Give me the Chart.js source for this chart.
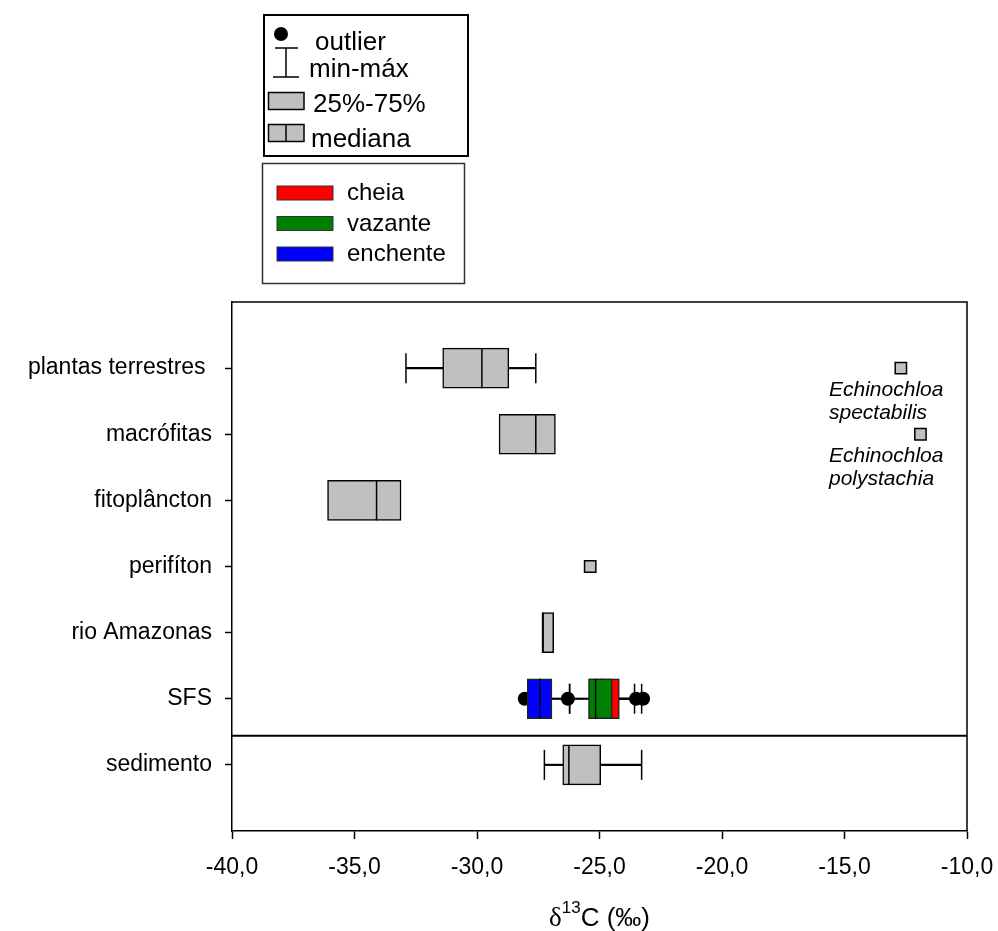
<!DOCTYPE html>
<html>
<head>
<meta charset="utf-8">
<script src="https://cdn.jsdelivr.net/npm/chart.js@4/dist/chart.umd.min.js"></script>
<style>
  body { margin: 0; background: #fff; }
  #chart { display: block; }
</style>
</head>
<body>
<canvas id="chart" width="998" height="931"></canvas>
<script>
// categories (top to bottom)
const categories = ['plantas terrestres ', 'macrófitas', 'fitoplâncton', 'perifíton', 'rio Amazonas', 'SFS', 'sedimento'];
const xTicks = [-40, -35, -30, -25, -20, -15, -10];

// grey boxes: min, q1, median, q3, max
const boxRows = ['plantas terrestres ', 'macrófitas', 'fitoplâncton', 'rio Amazonas', 'sedimento'];
const boxMin = [-32.9, -29.1, -36.1, -27.35, -27.25];
const boxQ1 = [-31.4, -29.1, -36.1, -27.35, -26.5];
const boxMedian = [-29.8, -27.6, -34.1, -27.3, -26.25];
const boxQ3 = [-28.7, -26.8, -33.1, -26.87, -24.95];
const boxMax = [-27.6, -26.8, -33.1, -26.87, -23.28];

// single values
const pointRows = ['perifíton', 'plantas terrestres ', 'macrófitas'];
const pointValues = [-25.38, -12.7, -11.9];
const pointNotes = [[], ['Echinochloa', 'spectabilis'], ['Echinochloa', 'polystachia']];

// SFS per season
const seasons = ['cheia', 'vazante', 'enchente'];
const sfsMin = [-25.42, -26.22, -27.95];
const sfsQ1 = [-25.42, -25.45, -27.95];
const sfsMedian = [-24.9, -25.16, -27.43];
const sfsQ3 = [-24.19, -24.48, -26.94];
const sfsMax = [-23.28, -23.57, -26.22];
const sfsOutliers = [[-23.22], [-23.51], [-28.05, -26.29]];

const seasonColors = ['#ff0000', '#008000', '#0000ff'];
const grey = '#c0c0c0';
const sans = "'Liberation Sans', Arial, sans-serif";

function rowY(name) {
    return categories.indexOf(name) + 1;
}

// collect all boxes in draw order
const boxes = [];
boxRows.forEach((r, i) => boxes.push({
    y: rowY(r), min: boxMin[i], q1: boxQ1[i], med: boxMedian[i], q3: boxQ3[i], max: boxMax[i],
    color: grey, border: '#000', outliers: []
}));
seasons.forEach((s, i) => boxes.push({
    y: rowY('SFS'), min: sfsMin[i], q1: sfsQ1[i], med: sfsMedian[i], q3: sfsQ3[i], max: sfsMax[i],
    color: seasonColors[i], border: '#222', outliers: sfsOutliers[i]
}));

const whiskers = [];
const caps = [];
const outliers = [];
boxes.forEach(b => {
    if (b.min < b.q1) {
        whiskers.push({ x: [b.min, b.q1], y: b.y });
        caps.push({ x: b.min, y: b.y });
    }
    if (b.max > b.q3) {
        whiskers.push({ x: [b.q3, b.max], y: b.y });
        caps.push({ x: b.max, y: b.y });
    }
    b.outliers.forEach(o => outliers.push({ x: o, y: b.y }));
});

const datasets = [
    {
        type: 'bar', indexAxis: 'y', grouped: false, order: 100,
        data: whiskers, backgroundColor: '#000', borderWidth: 0, barThickness: 1.5
    },
    {
        type: 'scatter', order: 99, data: caps,
        pointStyle: 'line', rotation: 90, radius: 15, borderColor: '#000', borderWidth: 1.5
    },
    {
        type: 'scatter', order: 98, data: outliers,
        pointStyle: 'circle', radius: 7, backgroundColor: '#000', borderColor: '#000', borderWidth: 0
    }
];
// each box followed by its own median line
boxes.forEach((b, i) => {
    datasets.push({
        type: 'bar', indexAxis: 'y', grouped: false, order: 90 - i * 2,
        data: [{ x: [b.q1, b.q3], y: b.y }],
        backgroundColor: b.color, borderColor: b.border, borderWidth: 1.5, barThickness: 40, borderSkipped: false
    });
    datasets.push({
        type: 'scatter', order: 89 - i * 2,
        data: [{ x: b.med, y: b.y }],
        pointStyle: 'line', rotation: 90, radius: 20, borderColor: '#000', borderWidth: 1.5
    });
});
datasets.push({
    type: 'scatter', order: 0,
    data: pointRows.map((r, i) => ({ x: pointValues[i], y: rowY(r) })),
    pointStyle: 'rect', radius: 8, backgroundColor: grey, borderColor: '#000', borderWidth: 1.5
});
// line between SFS and sedimento
datasets.push({
    type: 'line', order: 0,
    data: [{ x: -40, y: 6.56 }, { x: -10, y: 6.56 }],
    borderColor: '#000', borderWidth: 2, pointRadius: 0
});

const extras = {
    id: 'extras',
    afterDraw(chart) {
        const c = chart.ctx;
        const a = chart.chartArea;
        const ys = chart.scales.y;
        c.save();
        // top and right frame
        c.strokeStyle = '#000';
        c.lineWidth = 1.5;
        c.beginPath();
        c.moveTo(a.left, a.top);
        c.lineTo(a.right, a.top);
        c.lineTo(a.right, a.bottom);
        c.stroke();

        // notes next to single points
        c.fillStyle = '#000';
        c.font = 'italic 21px ' + sans;
        c.textAlign = 'left';
        c.textBaseline = 'alphabetic';
        pointRows.forEach((r, i) => {
            const py = ys.getPixelForValue(rowY(r));
            pointNotes[i].forEach((t, k) => c.fillText(t, 829, py + 28 + k * 23));
        });

        // axis title
        const base = 926;
        c.font = '26px ' + sans;
        const rest = 'C (‰)';
        const wRest = c.measureText(rest).width;
        c.font = '27px "Liberation Serif", "Times New Roman", serif';
        const wD = c.measureText('δ').width;
        c.font = '17px ' + sans;
        const wS = c.measureText('13').width;
        let x0 = (a.left + a.right) / 2 - (wD + wS + wRest) / 2;
        c.font = '27px "Liberation Serif", "Times New Roman", serif';
        c.fillText('δ', x0, base);
        c.font = '17px ' + sans;
        c.fillText('13', x0 + wD, base - 13);
        c.font = '26px ' + sans;
        c.fillText(rest, x0 + wD + wS, base);

        // legend 1: box plot symbols
        c.lineWidth = 2;
        c.strokeStyle = '#000';
        c.strokeRect(264, 15, 204, 141);
        c.beginPath();
        c.arc(281, 34, 7, 0, Math.PI * 2);
        c.fill();
        c.lineWidth = 1.5;
        c.beginPath();
        c.moveTo(275, 48); c.lineTo(298, 48);
        c.moveTo(286, 48); c.lineTo(286, 77);
        c.moveTo(273, 77); c.lineTo(299, 77);
        c.stroke();
        c.fillStyle = grey;
        c.fillRect(268.5, 92.5, 35.5, 17);
        c.strokeRect(268.5, 92.5, 35.5, 17);
        c.fillRect(268.5, 124.5, 35.5, 17);
        c.strokeRect(268.5, 124.5, 35.5, 17);
        c.beginPath();
        c.moveTo(286, 124.5); c.lineTo(286, 141.5);
        c.stroke();
        c.fillStyle = '#000';
        c.font = '26px ' + sans;
        c.fillText('outlier', 315, 50);
        c.fillText('min-máx', 309, 77);
        c.fillText('25%-75%', 313, 112);
        c.fillText('mediana', 311, 147);

        // legend 2: seasons
        c.lineWidth = 1.5;
        c.strokeStyle = '#333';
        c.strokeRect(262.5, 163.5, 202, 120);
        c.font = '24px ' + sans;
        seasons.forEach((s, i) => {
            const ty = 186 + i * 30.5;
            c.fillStyle = seasonColors[i];
            c.fillRect(277, ty, 56, 14);
            c.lineWidth = 1;
            c.strokeRect(277, ty, 56, 14);
            c.fillStyle = '#000';
            c.fillText(s, 347, ty + 14);
        });
        c.restore();
    }
};

new Chart(document.getElementById('chart'), {
    type: 'bar',
    data: { datasets: datasets },
    options: {
        responsive: false,
        animation: false,
        events: [],
        layout: { padding: { top: 302, right: 31, bottom: 0, left: 0 } },
        plugins: { legend: { display: false }, tooltip: { enabled: false } },
        scales: {
            x: {
                type: 'linear', min: -40, max: -10, offset: false,
                afterBuildTicks: s => { s.ticks = xTicks.map(v => ({ value: v })); },
                afterFit: s => { s.height = 100; s.paddingLeft = 0; s.paddingRight = 0; },
                ticks: {
                    color: '#000', font: { size: 23, family: sans }, padding: 15,
                    maxRotation: 0,
                    callback: v => v.toFixed(1).replace('.', ',')
                },
                grid: { offset: false, drawOnChartArea: false, tickLength: 8, tickColor: '#000', tickWidth: 1.5 },
                border: { color: '#000', width: 1.5 }
            },
            y: {
                type: 'linear', min: 0, max: 8, reverse: true, offset: false,
                afterBuildTicks: s => { s.ticks = categories.map((c, i) => ({ value: i + 1 })); },
                afterFit: s => { s.width = 232; s.paddingTop = 0; s.paddingBottom = 0; },
                ticks: {
                    color: '#000', font: { size: 23, family: sans }, padding: 13,
                    callback: v => categories[v - 1]
                },
                grid: { offset: false, drawOnChartArea: false, tickLength: 7, tickColor: '#000', tickWidth: 1.5 },
                border: { color: '#000', width: 1.5 }
            }
        }
    },
    plugins: [extras]
});
</script>
</body>
</html>
